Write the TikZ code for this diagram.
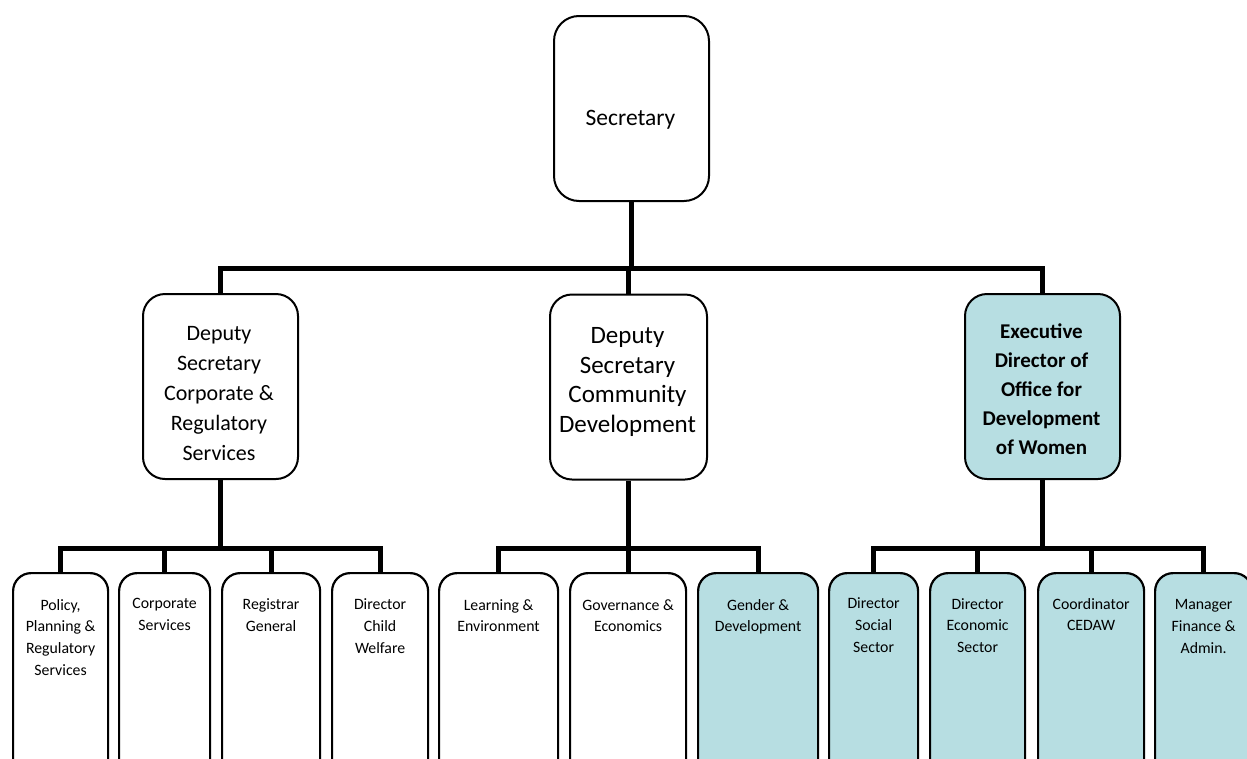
\documentclass[tikz,border=0pt]{standalone}
\usepackage{fontspec}
\setmainfont{Carlito}
\definecolor{aquafill}{HTML}{B7DEE2}
\newcommand{\mylines}[1]{\begin{tabular}[t]{@{}c@{}}#1\end{tabular}}
\tikzset{
  bigbox/.style={draw=black, line width=2pt, rounded corners=22pt, fill=white,
    anchor=north west, inner sep=0pt, minimum width=155pt, minimum height=185pt},
  smallbox/.style={draw=black, line width=2.2pt, rounded corners=18pt, fill=white,
    anchor=north west, inner sep=0pt, minimum height=230pt},
  aqua/.style={fill=aquafill},
  conn/.style={draw=black, line width=5pt, line join=miter},
  smalltext/.style={anchor=base, inner sep=0pt, font={\fontsize{15.8}{21.8}\selectfont}},
}
\begin{document}
\begin{tikzpicture}[x=1pt, y=-1pt]
\useasboundingbox (0,0) rectangle (1247,758);
\clip (0,0) rectangle (1247,758);
\fill[white] (0,0) rectangle (1247,758);

% coordinates of the connector bars
\coordinate (tb) at (0,268.5);
\coordinate (lb) at (0,548);

% top box
\node[bigbox, rounded corners=25pt] (sec) at (553,15) {};
\node[anchor=base, inner sep=0pt, font={\fontsize{23.5}{28}\selectfont}] (sect) at (630.5,125) {Secretary};

% second level
\node[bigbox] (dl) at (142,293) {};
\node[bigbox, minimum width=157pt] (dm) at (549,293.5) {};
\node[bigbox, aqua] (de) at (964,293) {};
\node[anchor=base, inner sep=0pt, font={\fontsize{22}{30}\selectfont}] (dlt) at (219,340)
  {\mylines{Deputy\\Secretary\\Corporate \&\\Regulatory\\Services}};
\node[anchor=base, inner sep=0pt, font={\fontsize{25}{29.8}\selectfont}] (dmt) at (627.5,343.3)
  {\mylines{Deputy\\Secretary\\Community\\Development}};
\node[anchor=base, inner sep=0pt, font={\bfseries\fontsize{21}{29}\selectfont}] (det) at (1041.5,338.3)
  {\mylines{Executive\\Director of\\Office for\\Development\\of Women}};

% third level
\node[smallbox, minimum width=95pt] (p1) at (12,572) {};
\node[smallbox, minimum width=91pt] (p2) at (118,572) {};
\node[smallbox, minimum width=98pt] (p3) at (221,572) {};
\node[smallbox, minimum width=96pt] (p4) at (331,572) {};
\node[smallbox, minimum width=119pt] (l1) at (438,572) {};
\node[smallbox, minimum width=116pt] (l2) at (569,572) {};
\node[smallbox, aqua, minimum width=120pt] (l3) at (697,572) {};
\node[smallbox, aqua, minimum width=89pt] (r1) at (828,572) {};
\node[smallbox, aqua, minimum width=95pt] (r2) at (929,572) {};
\node[smallbox, aqua, minimum width=106pt] (r3) at (1037,572) {};
\node[smallbox, aqua, minimum width=97pt] (r4) at (1154,572) {};

\node[smalltext] (p1t) at (p1.north |- 0,610) {\mylines{Policy,\\Planning \&\\Regulatory\\Services}};
\node[smalltext] (p2t) at (p2.north |- 0,608.5) {\mylines{Corporate\\Services}};
\node[smalltext] (p3t) at (p3.north |- 0,609.5) {\mylines{Registrar\\General}};
\node[smalltext] (p4t) at (p4.north |- 0,609.5) {\mylines{Director\\Child\\Welfare}};
\node[smalltext] (l1t) at (l1.north |- 0,610) {\mylines{Learning \&\\Environment}};
\node[smalltext] (l2t) at (l2.north |- 0,610) {\mylines{Governance \&\\Economics}};
\node[smalltext] (l3t) at (l3.north |- 0,610) {\mylines{Gender \&\\Development}};
\node[smalltext] (r1t) at (r1.north |- 0,608.5) {\mylines{Director\\Social\\Sector}};
\node[smalltext] (r2t) at (r2.north |- 0,609) {\mylines{Director\\Economic\\Sector}};
\node[smalltext] (r3t) at (r3.north |- 0,609) {\mylines{Coordinator\\CEDAW}};
\node[smalltext] (r4t) at (r4.north |- 0,609.5) {\mylines{Manager\\Finance \&\\Admin.}};

% connectors: top level
\draw[conn] (sec.south) -- (sec.south |- tb);
\draw[conn] (dl.north) -- (dl.north |- tb) -- (de.north |- tb) -- (de.north);
\draw[conn] (dm.north) -- (dm.north |- tb);

% connectors: left group
\draw[conn] (dl.south) -- (dl.south |- lb);
\draw[conn] (p1.north) -- (p1.north |- lb) -- (p4.north |- lb) -- (p4.north);
\draw[conn] (p2.north) -- (p2.north |- lb);
\draw[conn] (p3.north) -- (p3.north |- lb);

% connectors: middle group
\draw[conn] (dm.south) -- (dm.south |- lb);
\draw[conn] (l1.north) -- (l1.north |- lb) -- (l3.north |- lb) -- (l3.north);
\draw[conn] (l2.north) -- (l2.north |- lb);

% connectors: right group
\draw[conn] (de.south) -- (de.south |- lb);
\draw[conn] (r1.north) -- (r1.north |- lb) -- (r4.north |- lb) -- (r4.north);
\draw[conn] (r2.north) -- (r2.north |- lb);
\draw[conn] (r3.north) -- (r3.north |- lb);
\end{tikzpicture}
\end{document}
